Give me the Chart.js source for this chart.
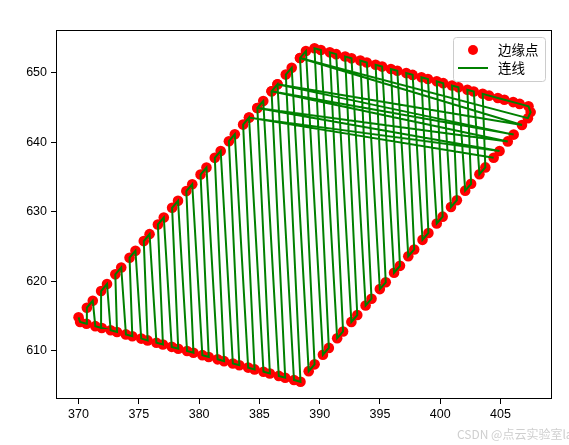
<!DOCTYPE html>
<html><head><meta charset="utf-8">
<script src="https://cdn.jsdelivr.net/npm/chart.js@4/dist/chart.umd.min.js"></script>
<style>html,body{margin:0;padding:0;background:#fff;}canvas{display:block;}</style>
</head><body>
<canvas id="c" width="569" height="445"></canvas>
<script>
// edge points, listed in the order the green line connects them
const ptX = [
370.00,370.13,370.66,370.69,371.18,371.39,371.93,371.87,372.36,372.66,
373.19,373.05,373.54,373.93,374.46,374.23,374.72,375.20,375.73,375.41,
375.89,376.46,377.00,376.58,377.07,377.73,378.27,377.76,378.25,379.00,
379.53,378.94,379.43,380.27,380.80,380.12,380.61,381.53,382.07,381.30,
381.79,382.80,383.34,382.47,382.96,384.07,384.60,383.65,384.14,385.34,
385.87,384.83,385.32,386.61,387.14,386.01,386.50,387.87,388.41,387.19,
387.68,389.09,389.58,388.37,388.86,390.27,390.76,389.57,390.10,391.45,
391.94,390.84,391.37,392.63,393.12,392.11,392.64,393.81,394.30,393.37,
393.91,394.99,395.48,394.64,395.18,396.17,396.66,395.91,396.44,397.35,
397.84,397.18,397.71,398.53,399.02,398.44,398.98,399.71,400.20,399.71,
400.25,400.89,401.38,400.98,401.51,402.07,402.56,402.25,402.78,403.25,
403.74,403.52,
404.05,404.78,405.32,406.05,406.59,407.32,407.50,407.27,388.37,406.78,
386.50,406.09,386.01,405.60,384.83,404.92,384.14,404.43
];
const ptY = [
614.81,614.15,613.89,616.20,617.20,613.55,613.29,618.59,619.59,612.95,
612.70,620.99,621.98,612.36,612.10,623.38,624.37,611.76,611.50,625.77,
626.77,611.17,610.91,628.16,629.16,610.57,610.31,630.55,631.55,609.97,
609.72,632.95,633.94,609.38,609.12,635.34,636.33,608.78,608.52,637.73,
638.72,608.19,607.93,640.12,641.12,607.59,607.33,642.51,643.51,606.99,
606.74,644.90,645.90,606.40,606.14,647.30,648.29,605.80,605.55,649.69,
650.68,607.08,608.06,652.08,653.08,609.44,610.42,653.48,653.23,611.80,
612.78,652.89,652.63,614.16,615.14,652.29,652.03,616.51,617.49,651.70,
651.44,618.87,619.85,651.10,650.84,621.23,622.21,650.50,650.25,623.59,
624.57,649.91,649.65,625.95,626.93,649.31,649.05,628.30,629.28,648.72,
648.46,630.66,631.64,648.12,647.86,633.02,634.00,647.52,647.27,635.38,
636.36,646.93,
646.67,646.33,646.07,645.74,645.48,645.14,644.30,643.43,652.08,642.45,
648.29,641.07,647.30,640.09,644.90,638.71,643.51,637.74
];
const xTicks = [370, 375, 380, 385, 390, 395, 400, 405];
const yTicks = [610, 620, 630, 640, 650];
const seriesLabels = ['边缘点', '连线'];
const watermark = 'CSDN @点云实验室lab';

const points = ptX.map((x, i) => ({x: x, y: ptY[i]}));

const tickFont = {family: "'Liberation Sans', Arial, sans-serif", size: 12.5};
const cjkFont = "'Noto Sans CJK SC', sans-serif";

const framePlugin = {
  id: 'frame',
  afterDatasetsDraw(chart) {
    const a = chart.chartArea, c = chart.ctx;
    c.save();
    c.strokeStyle = '#000';
    c.lineWidth = 1;
    c.strokeRect(Math.round(a.left) + 0.5, Math.round(a.top) + 0.5,
                 Math.round(a.right - a.left) - 1, Math.round(a.bottom - a.top) - 1);
    c.restore();
  }
};

const legendPlugin = {
  id: 'mplLegend',
  afterDraw(chart) {
    const c = chart.ctx;
    const ds = chart.data.datasets;
    const bx = 453.5, by = 37.5, bw = 92, bh = 44, r = 3;
    c.save();
    c.beginPath();
    c.moveTo(bx + r, by);
    c.lineTo(bx + bw - r, by); c.quadraticCurveTo(bx + bw, by, bx + bw, by + r);
    c.lineTo(bx + bw, by + bh - r); c.quadraticCurveTo(bx + bw, by + bh, bx + bw - r, by + bh);
    c.lineTo(bx + r, by + bh); c.quadraticCurveTo(bx, by + bh, bx, by + bh - r);
    c.lineTo(bx, by + r); c.quadraticCurveTo(bx, by, bx + r, by);
    c.closePath();
    c.fillStyle = 'rgba(255,255,255,0.8)';
    c.fill();
    c.strokeStyle = '#cccccc';
    c.lineWidth = 1;
    c.stroke();
    c.fillStyle = ds[0].backgroundColor;
    c.beginPath(); c.arc(473, 50, 5, 0, Math.PI * 2); c.fill();
    c.strokeStyle = ds[1].borderColor;
    c.lineWidth = 2;
    c.beginPath(); c.moveTo(458, 68); c.lineTo(488, 68); c.stroke();
    c.fillStyle = '#000';
    c.font = '13.5px ' + cjkFont;
    c.textBaseline = 'middle';
    c.textAlign = 'left';
    c.fillText(ds[0].label, 498, 50);
    c.fillText(ds[1].label, 498, 68);
    c.fillStyle = '#cfcfcf';
    c.font = '12px ' + cjkFont;
    c.fillText(watermark, 457, 434);
    c.restore();
  }
};

new Chart(document.getElementById('c'), {
  type: 'scatter',
  data: {
    datasets: [
      {
        label: seriesLabels[0],
        data: points,
        backgroundColor: '#ff0000',
        borderColor: '#ff0000',
        borderWidth: 0,
        pointRadius: 5.3,
        pointHoverRadius: 5.3,
        showLine: false,
        order: 2
      },
      {
        label: seriesLabels[1],
        data: points,
        borderColor: '#008000',
        backgroundColor: '#008000',
        borderWidth: 2,
        pointRadius: 0,
        pointHoverRadius: 0,
        showLine: true,
        fill: false,
        tension: 0,
        order: 1
      }
    ]
  },
  options: {
    responsive: false,
    animation: false,
    devicePixelRatio: 1,
    layout: {padding: {left: 0, right: 17, top: 30, bottom: 0}},
    plugins: {legend: {display: false}, tooltip: {enabled: false}},
    scales: {
      x: {
        type: 'linear',
        min: 368.13,
        max: 409.27,
        afterBuildTicks: s => { s.ticks = xTicks.map(v => ({value: v})); },
        afterFit: s => { s.height = 46; },
        grid: {drawOnChartArea: false, drawTicks: true, tickLength: 5, color: '#000', lineWidth: 1},
        border: {display: false},
        ticks: {color: '#000', font: tickFont, padding: 3, maxRotation: 0, autoSkip: false}
      },
      y: {
        type: 'linear',
        min: 603.08,
        max: 656.1,
        afterBuildTicks: s => { s.ticks = yTicks.map(v => ({value: v})); },
        afterFit: s => { s.width = 56; },
        grid: {drawOnChartArea: false, drawTicks: true, tickLength: 5, color: '#000', lineWidth: 1},
        border: {display: false},
        ticks: {color: '#000', font: tickFont, padding: 4, autoSkip: false}
      }
    }
  },
  plugins: [framePlugin, legendPlugin]
});
</script>
</body></html>
